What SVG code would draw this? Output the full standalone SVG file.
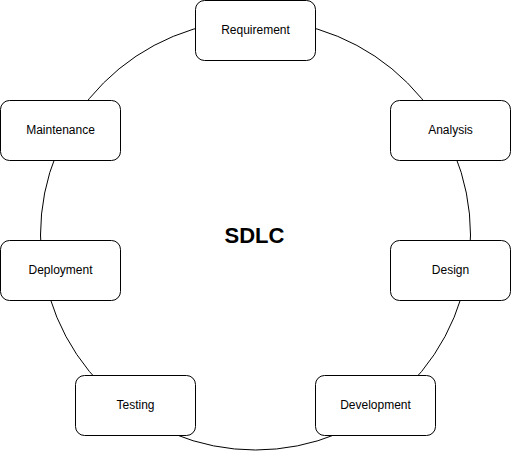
<svg xmlns="http://www.w3.org/2000/svg" width="511" height="451" viewBox="0 0 511 451">
<style>
.box{fill:#fff;stroke:#000;stroke-width:1}
.lbl{font-family:"Liberation Sans",Arial,sans-serif;font-size:12px;fill:#000;text-anchor:middle;dominant-baseline:central}
.title{font-family:"Liberation Sans",Arial,sans-serif;font-size:22px;font-weight:bold;fill:#000;text-anchor:middle;dominant-baseline:central}
</style>
<rect width="511" height="451" fill="#fff"/>
<g id="connectors">
<circle cx="255.5" cy="235" r="215" fill="none" stroke="#000" stroke-width="1"/>
</g>
<g id="sdlc"><text class="title" x="254.5" y="235">SDLC</text></g>
<g id="requirement"><rect class="box" x="195.5" y="0.5" width="120" height="60" rx="9"/><text class="lbl" x="255.5" y="30">Requirement</text></g>
<g id="analysis"><rect class="box" x="390.5" y="100.5" width="120" height="60" rx="9"/><text class="lbl" x="450.5" y="130">Analysis</text></g>
<g id="design"><rect class="box" x="390.5" y="240.5" width="120" height="60" rx="9"/><text class="lbl" x="450.5" y="270">Design</text></g>
<g id="development"><rect class="box" x="315.5" y="375.5" width="120" height="60" rx="9"/><text class="lbl" x="375.5" y="405">Development</text></g>
<g id="testing"><rect class="box" x="75.5" y="375.5" width="120" height="60" rx="9"/><text class="lbl" x="135.5" y="405">Testing</text></g>
<g id="deployment"><rect class="box" x="0.5" y="240.5" width="120" height="60" rx="9"/><text class="lbl" x="60.5" y="270">Deployment</text></g>
<g id="maintenance"><rect class="box" x="0.5" y="100.5" width="120" height="60" rx="9"/><text class="lbl" x="60.5" y="130">Maintenance</text></g>
</svg>
